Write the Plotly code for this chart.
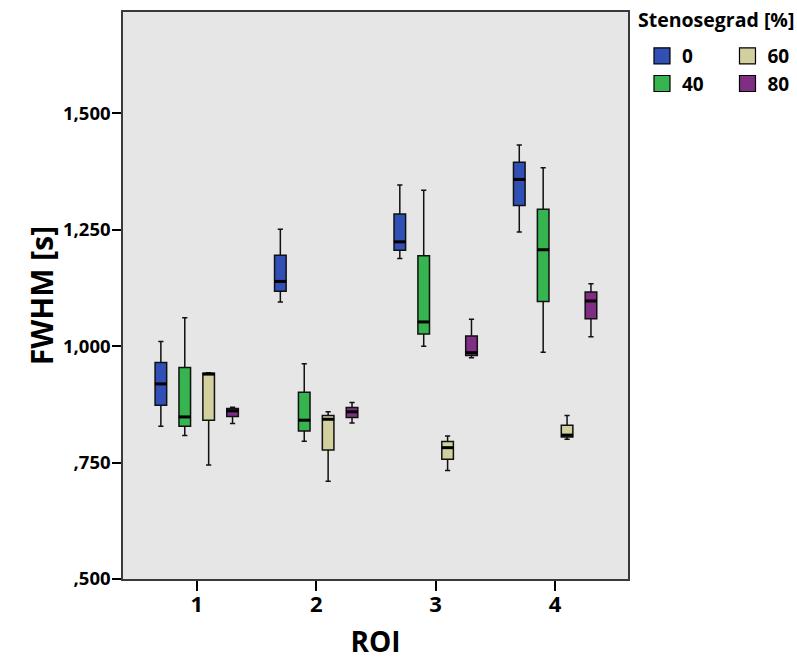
import plotly.graph_objects as go

# ROI positions on the x axis and stenosis grades (legend groups)
roi = [1, 2, 3, 4]
grades = ["0", "40", "60", "80"]

# Box statistics per stenosis grade, one value per ROI (FWHM in seconds)
lower_0 = [0.828, 1.095, 1.188, 1.245]
q1_0 = [0.873, 1.118, 1.206, 1.302]
median_0 = [0.919, 1.139, 1.224, 1.358]
q3_0 = [0.965, 1.195, 1.284, 1.395]
upper_0 = [1.010, 1.251, 1.346, 1.432]

lower_40 = [0.808, 0.796, 1.000, 0.987]
q1_40 = [0.828, 0.818, 1.026, 1.096]
median_40 = [0.848, 0.841, 1.052, 1.207]
q3_40 = [0.954, 0.901, 1.194, 1.294]
upper_40 = [1.061, 0.962, 1.335, 1.383]

lower_60 = [0.745, 0.710, 0.733, 0.800]
q1_60 = [0.841, 0.777, 0.757, 0.805]
median_60 = [0.940, 0.843, 0.782, 0.809]
q3_60 = [0.942, 0.851, 0.795, 0.830]
upper_60 = [0.943, 0.859, 0.807, 0.851]

lower_80 = [0.834, 0.835, 0.975, 1.020]
q1_80 = [0.849, 0.847, 0.980, 1.059]
median_80 = [0.861, 0.859, 0.986, 1.097]
q3_80 = [0.866, 0.868, 1.022, 1.116]
upper_80 = [0.869, 0.879, 1.058, 1.134]

y_tickvals = [0.5, 0.75, 1.0, 1.25, 1.5]
y_ticktext = [",500", ",750", "1,000", "1,250", "1,500"]

stats = {
    "0": (lower_0, q1_0, median_0, q3_0, upper_0),
    "40": (lower_40, q1_40, median_40, q3_40, upper_40),
    "60": (lower_60, q1_60, median_60, q3_60, upper_60),
    "80": (lower_80, q1_80, median_80, q3_80, upper_80),
}

colors = {"0": "#3050B5", "40": "#35B44F", "60": "#D1D09E", "80": "#7F2E84"}
offsets = {"0": -0.3, "40": -0.1, "60": 0.1, "80": 0.3}
legend_of = {"0": "legend", "40": "legend", "60": "legend2", "80": "legend2"}

FONT = "Open Sans"
BOX_W = 0.097


def bold(size):
    return dict(family=FONT, size=size, color="black", weight="bold")


fig = go.Figure()

for g in grades:
    lo, a, m, b, hi = stats[g]
    xs = [r + offsets[g] for r in roi]
    fig.add_trace(go.Box(
        x=xs, lowerfence=lo, q1=a, median=m, q3=b, upperfence=hi,
        width=BOX_W, whiskerwidth=0.45,
        fillcolor=colors[g], line=dict(color="#111111", width=1.5),
        boxpoints=False, showlegend=False, hoverinfo="skip",
    ))
    # thicker median bar on top of each box
    fig.add_trace(go.Scatter(
        x=xs, y=m, mode="markers",
        marker=dict(symbol="line-ew", size=8.6,
                    line=dict(color="black", width=3)),
        showlegend=False, hoverinfo="skip",
    ))

# legend entries: square colour swatches in two columns
for g in grades:
    fig.add_trace(go.Scatter(
        x=[None], y=[None], mode="markers", name=g,
        marker=dict(symbol="square", size=16, color=colors[g],
                    line=dict(color="black", width=1.2)),
        legend=legend_of[g],
    ))

# heading above the two legend columns
fig.add_annotation(
    text="Stenosegrad [%]", xref="paper", yref="paper",
    x=1.0158, y=0.986, xanchor="left", yanchor="middle",
    showarrow=False, font=bold(19.5),
)

fig.update_layout(
    width=797, height=660,
    margin=dict(l=123, r=169, t=12, b=81, autoexpand=False),
    paper_bgcolor="white",
    plot_bgcolor="#E6E6E6",
    font=dict(family=FONT, color="black"),
    legend=dict(
        x=1.0277, y=0.956, xanchor="left", yanchor="top",
        font=bold(19), bgcolor="rgba(0,0,0,0)",
        itemwidth=30, tracegroupgap=0,
    ),
    legend2=dict(
        x=1.197, y=0.956, xanchor="left", yanchor="top",
        font=bold(19), bgcolor="rgba(0,0,0,0)",
        itemwidth=30, tracegroupgap=0,
    ),
    xaxis=dict(
        range=[0.383, 4.61], automargin=False,
        tickmode="array", tickvals=roi, ticktext=[str(r) for r in roi],
        ticks="outside", ticklen=10, tickwidth=1.5, tickcolor="black",
        tickfont=bold(22), ticklabelstandoff=-5,
        showgrid=False, zeroline=False,
        showline=True, linecolor="#3A3A3A", linewidth=1.5, mirror=True,
        title=dict(text="ROI", standoff=40, font=bold(28)),
    ),
    yaxis=dict(
        range=[0.5, 1.7175], automargin=False,
        tickmode="array", tickvals=y_tickvals, ticktext=y_ticktext,
        ticks="outside", ticklen=9, tickwidth=1.5, tickcolor="black",
        tickfont=bold(18.5), ticklabelstandoff=-2,
        showgrid=False, zeroline=False,
        showline=True, linecolor="#3A3A3A", linewidth=1.5, mirror=True,
        title=dict(text="FWHM [s]", standoff=0, font=bold(30)),
    ),
)

fig.write_html("out.html")
